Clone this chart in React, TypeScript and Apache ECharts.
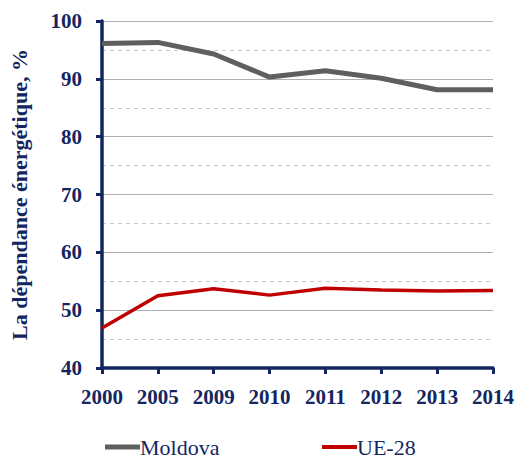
import React, { useEffect, useRef } from "react";
import * as echarts from "echarts";

const years = ["2000", "2005", "2009", "2010", "2011", "2012", "2013", "2014"];
const moldova = [96.1, 96.3, 94.3, 90.3, 91.4, 90.1, 88.1, 88.1];
const ue28 = [46.9, 52.5, 53.7, 52.6, 53.8, 53.5, 53.3, 53.4];

const navy = "#14265f";
const font = "Liberation Serif, serif";

export default function App() {
  const ref = useRef<HTMLDivElement>(null);
  useEffect(() => {
    if (!ref.current) return;
    const chart = echarts.init(ref.current, undefined, { renderer: "svg" });
    chart.setOption({
      animation: false,
      textStyle: { fontFamily: font },
      grid: { left: 93, right: 23, top: 21, bottom: 93 },
      legend: [
        {
          data: ["Moldova"],
          left: 105,
          top: 436,
          itemWidth: 35,
          itemHeight: 5,
          padding: 0,
          textStyle: { fontFamily: font, fontSize: 22, lineHeight: 22, color: navy, padding: [0, 0, 0, -5] },
          icon: "rect",
        },
        {
          data: ["UE-28"],
          left: 322,
          top: 436,
          itemWidth: 35,
          itemHeight: 4,
          padding: 0,
          textStyle: { fontFamily: font, fontSize: 22, lineHeight: 22, color: navy, padding: [0, 0, 0, -5] },
          icon: "rect",
        },
      ],
      xAxis: {
        type: "category",
        data: years,
        boundaryGap: false,
        axisLine: { lineStyle: { color: navy, width: 3.5 } },
        axisTick: { show: true, length: 6, lineStyle: { color: navy, width: 3 } },
        axisLabel: {
          color: navy,
          fontSize: 21,
          fontWeight: "bold",
          fontFamily: font,
          margin: 18,
        },
        splitLine: { show: false },
      },
      yAxis: {
        type: "value",
        min: 40,
        max: 100,
        interval: 10,
        name: "La dépendance énergétique, %",
        nameLocation: "middle",
        nameGap: 72,
        nameRotate: 90,
        nameTextStyle: { color: navy, fontSize: 22, fontWeight: "bold", fontFamily: font },
        axisLine: { show: true, lineStyle: { color: navy, width: 3.5 } },
        axisTick: { show: true, length: 6, lineStyle: { color: navy, width: 3 } },
        axisLabel: {
          color: navy,
          fontSize: 21,
          fontWeight: "bold",
          fontFamily: font,
          margin: 20,
        },
        splitLine: { show: true, lineStyle: { color: "#b0b0b0", width: 1.2 } },
        minorTick: { show: false, splitNumber: 2 },
        minorSplitLine: { show: true, lineStyle: { color: "#c8c8c8", type: [4, 4], width: 1 } },
      },
      series: [
        {
          name: "Moldova",
          type: "line",
          data: moldova,
          symbol: "none",
          lineStyle: { color: "#5f5f5f", width: 5 },
          itemStyle: { color: "#5f5f5f" },
        },
        {
          name: "UE-28",
          type: "line",
          data: ue28,
          symbol: "none",
          lineStyle: { color: "#c00000", width: 3.5 },
          itemStyle: { color: "#c00000" },
        },
      ],
    });
    return () => chart.dispose();
  }, []);
  return <div ref={ref} style={{ width: 517, height: 461, position: "absolute", left: 0, top: 0 }} />;
}
